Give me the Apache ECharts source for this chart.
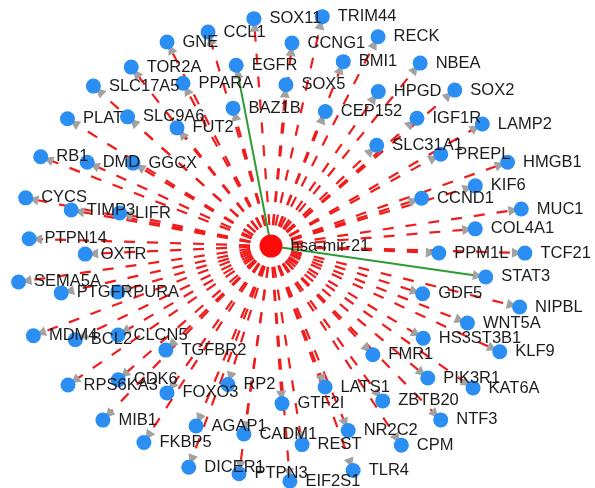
<!DOCTYPE html>
<html>
<head>
<meta charset="utf-8">
<script src="https://cdn.jsdelivr.net/npm/echarts@6/dist/echarts.min.js"></script>
<style>
  html, body { margin: 0; background: #fff; }
  #chart { width: 595px; height: 488px; }
</style>
</head>
<body>
<div id="chart"></div>
<script>
// miRNA and its predicted targets
var mirna = 'hsa-mir-21';
var targets = ['GNE', 'CCL1', 'SOX11', 'TRIM44', 'RECK', 'TOR2A', 'EGFR', 'CCNG1', 'BMI1', 'NBEA',
  'SLC17A5', 'PPARA', 'SOX5', 'HPGD', 'SOX2', 'BAZ1B', 'CEP152', 'IGF1R', 'LAMP2', 'PLAT',
  'SLC9A6', 'FUT2', 'SLC31A1', 'PREPL', 'HMGB1', 'RB1', 'DMD', 'GGCX', 'KIF6', 'CCND1',
  'MUC1', 'CYCS', 'TIMP3', 'LIFR', 'COL4A1', 'PTPN14', 'OXTR', 'PPM1L', 'TCF21', 'STAT3',
  'SEMA5A', 'PTGFR', 'PURA', 'GDF5', 'NIPBL', 'WNT5A', 'MDM4', 'BCL2', 'CLCN5', 'HS3ST3B1',
  'KLF9', 'TGFBR2', 'FMR1', 'RPS6KA3', 'CDK6', 'PIK3R1', 'KAT6A', 'FOXO3', 'RP2', 'LATS1',
  'MIB1', 'GTF2I', 'ZBTB20', 'AGAP1', 'CADM1', 'NR2C2', 'NTF3', 'FKBP5', 'REST', 'CPM',
  'DICER1', 'PTPN3', 'TLR4', 'EIF2S1'];
// distance of each target from the miRNA (radius axis)
var targetDist = [229, 223, 228, 235, 235, 227, 184, 204, 198, 236,
  239, 185, 162, 188, 241, 143, 145, 194, 244, 240,
  193, 151, 146, 193, 251, 247, 202, 161, 213, 158,
  253, 250, 203, 155, 205, 242, 186, 168, 254, 217,
  255, 215, 160, 159, 256, 211, 254, 217, 177, 178,
  252, 148, 149, 246, 203, 205, 247, 180, 145, 151,
  242, 158, 191, 195, 190, 200, 243, 234, 201, 238,
  236, 230, 239, 236];
// bearing of each target around the miRNA, degrees counter-clockwise from east
var targetAngle = [117.0, 106.4, 94.3, 77.4, 62.9, 128.0, 100.9, 84.1, 68.6, 50.8,
  138.0, 118.4, 84.7, 55.2, 40.3, 105.4, 68.0, 41.2, 30.0, 148.0,
  138.0, 128.5, 43.6, 28.4, 19.5, 158.8, 155.5, 149.0, 16.4, 17.6,
  8.4, 168.9, 169.8, 167.7, 4.8, 178.3, 182.5, 357.6, 358.4, 351.8,
  188.1, 192.6, 196.7, 342.5, 346.2, 338.6, 200.7, 205.6, 210.2, 328.8,
  335.2, 224.7, 313.1, 214.4, 221.2, 319.9, 324.9, 234.7, 252.7, 291.0,
  226.0, 274.0, 305.8, 247.4, 261.8, 292.7, 314.3, 237.1, 278.9, 303.2,
  249.6, 262.0, 290.1, 274.6];
// experimentally validated interactions (green edges)
var validated = ['EGFR', 'STAT3'];

var chart = echarts.init(document.getElementById('chart'));

function buildNodes (centerSize, targetSize) {
  var list = [{
    name: mirna,
    value: [0, 0],
    symbolSize: centerSize,
    itemStyle: { color: '#ff0a0a' }
  }];
  targets.forEach(function (t, i) {
    list.push({ name: t, value: [targetDist[i], targetAngle[i]], symbolSize: targetSize });
  });
  return list;
}

var predicted = targets.filter(function (t) { return validated.indexOf(t) < 0 });

var lineEdges = predicted.map(function (t) {
  return { source: mirna, target: t };
}).concat(validated.map(function (t) {
  return { source: mirna, target: t, lineStyle: { color: '#2e9b35', type: 'solid', width: 2 } };
}));

var arrowEdges = targets.map(function (t) {
  return { source: mirna, target: t };
});

var option = {
  backgroundColor: '#fff',
  animation: false,
  polar: {
    center: [271, 246],
    radius: 300
  },
  radiusAxis: { type: 'value', min: 0, max: 300, show: false },
  angleAxis: { type: 'value', min: 0, max: 360, startAngle: 0, clockwise: false, show: false },
  series: [
    {
      // dashed interaction lines
      type: 'graph',
      coordinateSystem: 'polar',
      z: 2,
      data: buildNodes(0, 0),
      links: lineEdges,
      symbol: 'circle',
      label: { show: false },
      lineStyle: {
        color: '#f01c1c',
        width: 2.2,
        type: [11, 12],
        dashOffset: 2,
        opacity: 1
      },
      emphasis: { disabled: true }
    },
    {
      // grey arrow heads
      type: 'graph',
      coordinateSystem: 'polar',
      z: 3,
      data: buildNodes(22, 16),
      links: arrowEdges,
      symbol: 'circle',
      itemStyle: { opacity: 0 },
      label: { show: false },
      edgeSymbol: ['none', 'triangle'],
      edgeSymbolSize: [0, 10],
      lineStyle: { color: '#a2a2a2', width: 0, opacity: 1 },
      emphasis: { disabled: true }
    },
    {
      // gene nodes with labels
      type: 'graph',
      coordinateSystem: 'polar',
      z: 4,
      data: buildNodes(23, 15),
      links: [],
      symbol: 'circle',
      itemStyle: { color: '#2a8ef2' },
      label: {
        show: true,
        position: 'right',
        distance: 8,
        fontSize: 16.5,
        fontFamily: 'Liberation Sans, Arial, sans-serif',
        color: '#1c1c1c'
      },
      emphasis: { disabled: true }
    }
  ]
};

chart.setOption(option);
</script>
</body>
</html>
